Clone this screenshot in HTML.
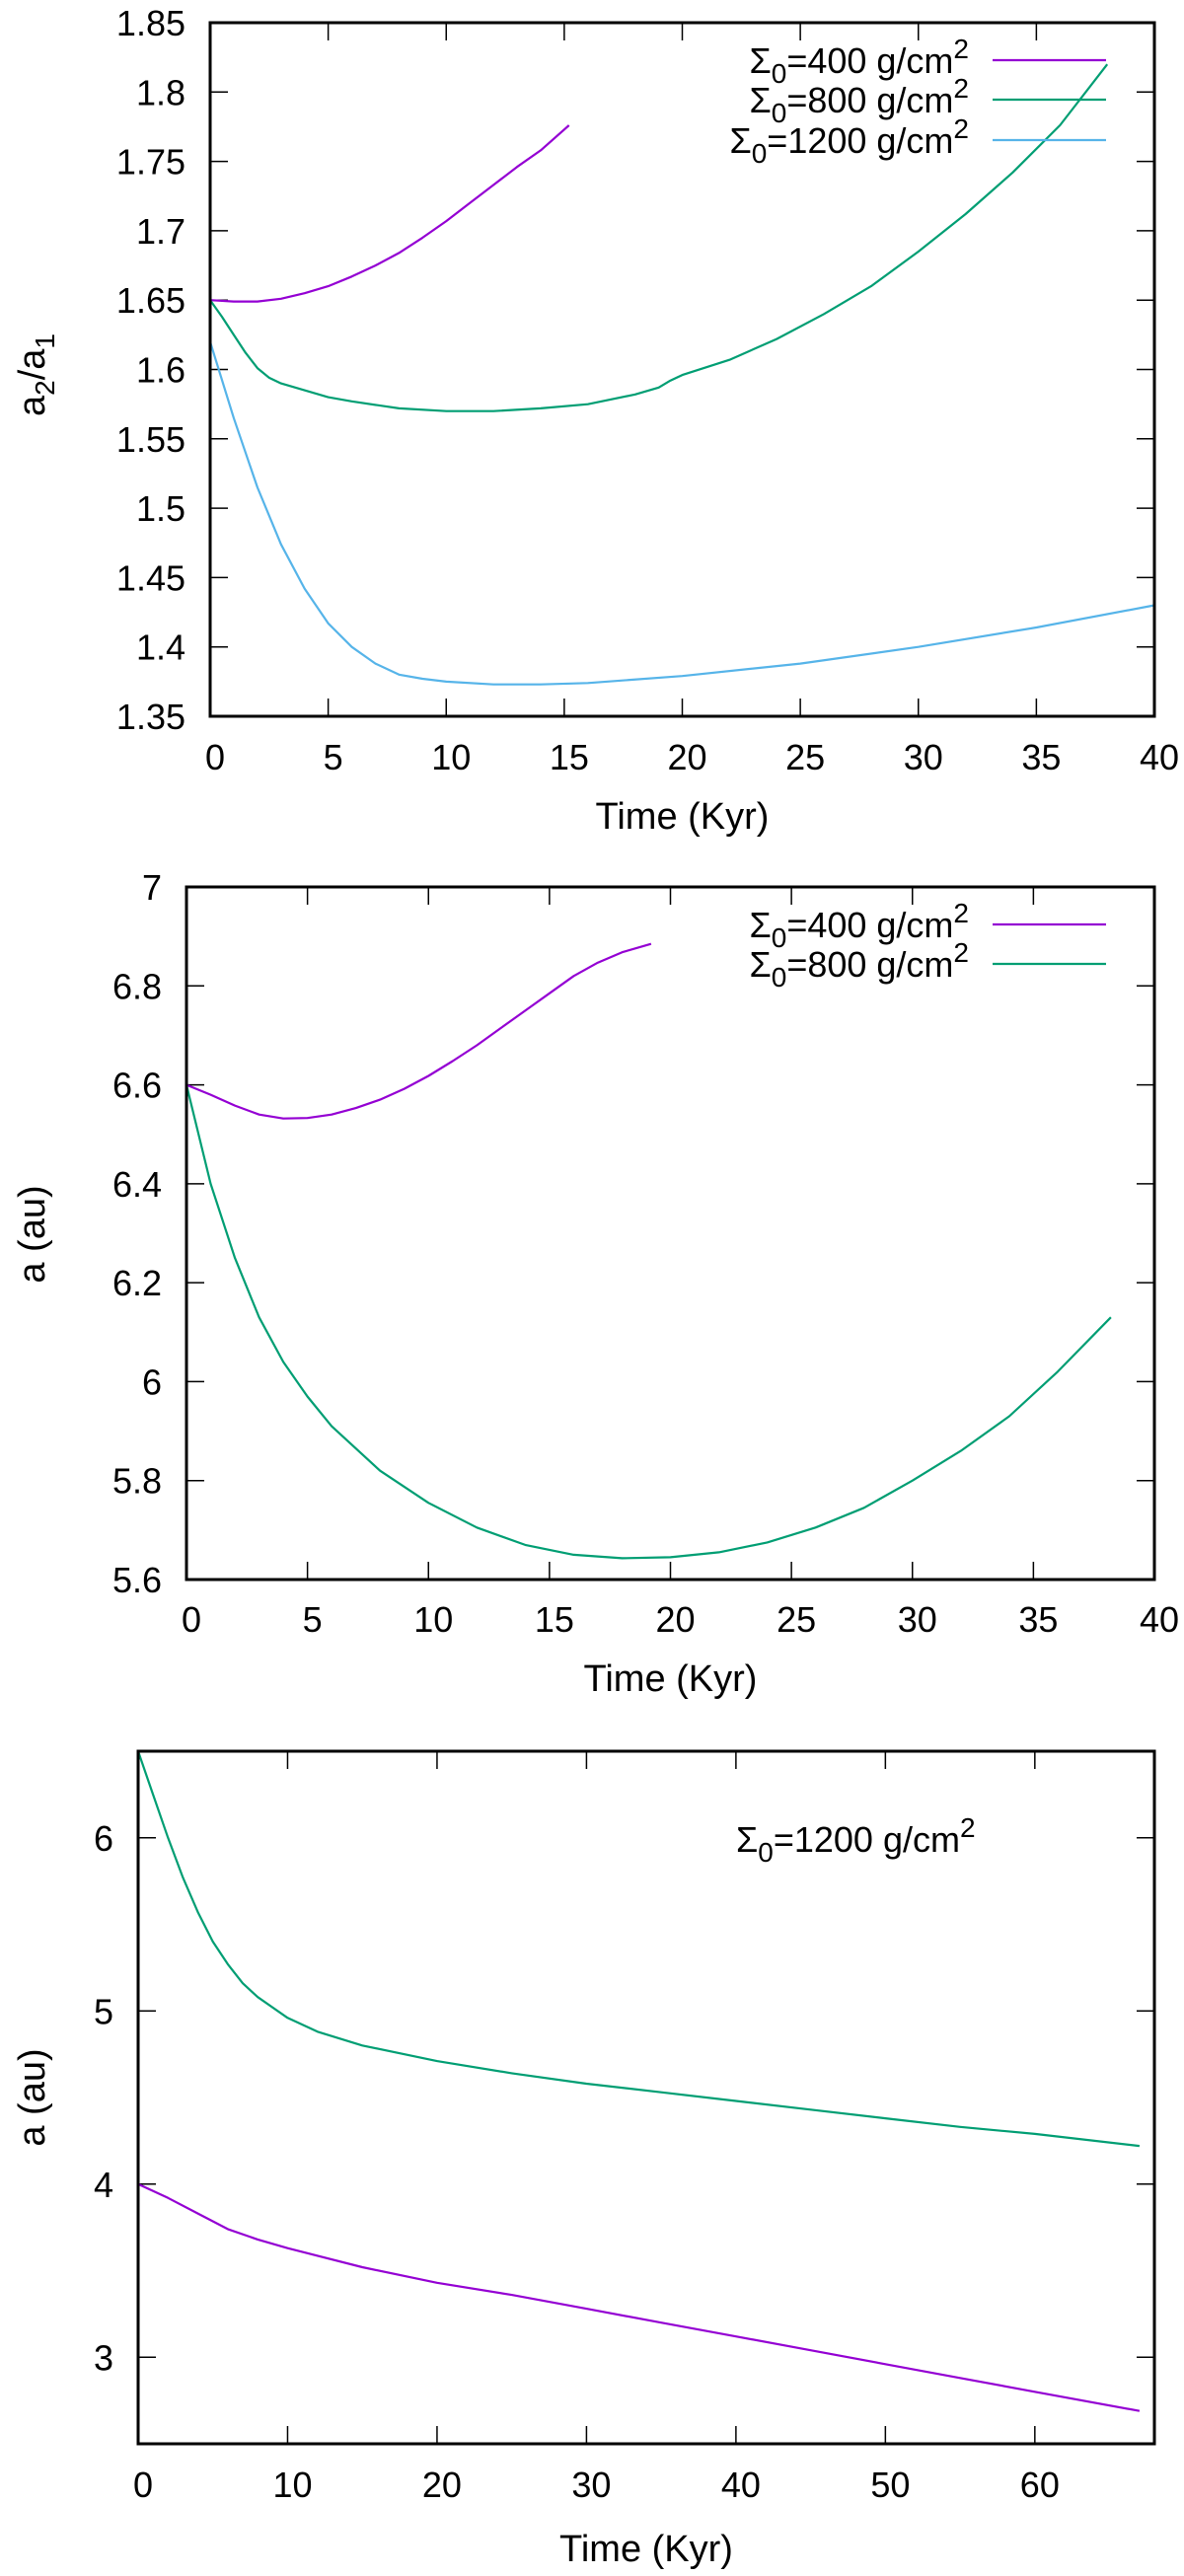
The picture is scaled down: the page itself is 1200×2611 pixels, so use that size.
<!DOCTYPE html>
<html><head><meta charset="utf-8"><style>
html,body{margin:0;padding:0;background:#fff}
svg{display:block}
text{font-family:"Liberation Sans",sans-serif;fill:#000}
</style></head><body>
<svg id="chart" width="1200" height="2611" viewBox="0 0 1200 2611" xmlns="http://www.w3.org/2000/svg"></svg>
<script>
// ---- Panel 1 data (a2/a1 vs time) ----
const p1PurpleT = [0,1,2,3,4,5,6,7,8,9,10,11,12,13,14,15.2];
const p1PurpleV = [1.65,1.649,1.649,1.651,1.655,1.66,1.667,1.675,1.684,1.695,1.707,1.72,1.733,1.746,1.758,1.776];
const p1GreenT = [0,0.5,1,1.5,2,2.5,3,4,5,6,8,10,12,14,16,18,19,19.5,20,22,24,26,28,30,32,34,36,38];
const p1GreenV = [1.65,1.638,1.625,1.612,1.601,1.594,1.59,1.585,1.58,1.577,1.572,1.57,1.57,1.572,1.575,1.582,1.587,1.592,1.596,1.607,1.622,1.64,1.66,1.685,1.712,1.742,1.776,1.82];
const p1BlueT = [0,1,2,3,4,5,6,7,8,9,10,12,14,16,20,25,30,35,40];
const p1BlueV = [1.62,1.565,1.515,1.474,1.442,1.417,1.4,1.388,1.38,1.377,1.375,1.373,1.373,1.374,1.379,1.388,1.4,1.414,1.43];
const p1YTicks = ["1.35","1.4","1.45","1.5","1.55","1.6","1.65","1.7","1.75","1.8","1.85"];
const p1XTicks = ["0","5","10","15","20","25","30","35","40"];
// ---- Panel 2 data ----
const p2PurpleT = [0,1,2,3,4,5,6,7,8,9,10,11,12,13,14,15,16,17,18,19.2];
const p2PurpleV = [6.6,6.58,6.558,6.54,6.532,6.533,6.54,6.553,6.57,6.592,6.618,6.648,6.68,6.715,6.75,6.785,6.82,6.847,6.868,6.885];
const p2GreenT = [0,1,2,3,4,5,6,8,10,12,14,16,18,20,22,24,26,28,30,32,34,36,38.2];
const p2GreenV = [6.6,6.4,6.25,6.13,6.04,5.97,5.91,5.82,5.755,5.705,5.67,5.65,5.643,5.645,5.655,5.675,5.705,5.745,5.8,5.86,5.93,6.02,6.13];
const p2YTicks = ["5.6","5.8","6","6.2","6.4","6.6","6.8","7"];
const p2XTicks = ["0","5","10","15","20","25","30","35","40"];
// ---- Panel 3 data ----
const p3GreenT = [0,1,2,3,4,5,6,7,8,10,12,15,20,25,30,35,40,45,50,55,60,67];
const p3GreenV = [6.5,6.25,6.0,5.77,5.57,5.4,5.27,5.16,5.08,4.96,4.88,4.8,4.71,4.64,4.58,4.53,4.48,4.43,4.38,4.33,4.29,4.22];
const p3PurpleT = [0,2,4,6,8,10,15,20,25,30,35,40,45,50,55,60,67];
const p3PurpleV = [4.0,3.92,3.83,3.74,3.68,3.63,3.52,3.43,3.36,3.28,3.2,3.12,3.04,2.96,2.88,2.8,2.69];
const p3YTicks = ["3","4","5","6"];
const p3XTicks = ["0","10","20","30","40","50","60"];

const NS="http://www.w3.org/2000/svg";
const svg=document.getElementById('chart');
const PURPLE="#9400d3", GREEN="#009e73", BLUE="#56b4e9";
function mk(tag,attrs,parent){const e=document.createElementNS(NS,tag);for(const k in attrs)e.setAttribute(k,attrs[k]);(parent||svg).appendChild(e);return e;}

function panel(cfg){
  const g=mk('g',{});
  
  
  const sx=v=>cfg.L+(v-cfg.x0)/(cfg.x1-cfg.x0)*(cfg.R-cfg.L);
  const sy=v=>cfg.B-(v-cfg.y0)/(cfg.y1-cfg.y0)*(cfg.B-cfg.T);
  cfg.yt.forEach(s=>{const v=parseFloat(s),y=sy(v);
    const t1=mk('line',{x1:cfg.L,x2:cfg.L+18,y1:y,y2:y,stroke:'#000','stroke-width':1.5},g);
    
    
    const t2=mk('line',{x1:cfg.R-18,x2:cfg.R,y1:y,y2:y,stroke:'#000','stroke-width':1.5},g);
    
    
    const tx=mk('text',{x:cfg.L-25,y:y+13,'text-anchor':'end','font-size':36},g);
    tx.textContent=s;
    
    
  });
  cfg.xt.forEach(s=>{const v=parseFloat(s),x=sx(v);
    const t1=mk('line',{x1:x,x2:x,y1:cfg.B,y2:cfg.B-18,stroke:'#000','stroke-width':1.5},g);
    
    
    const t2=mk('line',{x1:x,x2:x,y1:cfg.T,y2:cfg.T+18,stroke:'#000','stroke-width':1.5},g);
    
    
    const tx=mk('text',{x:x+5,y:cfg.xly+13,'text-anchor':'middle','font-size':36},g);
    tx.textContent=s;
    
    
  });
  cfg.series.forEach(se=>{
    const d=se.t.map((t,i)=>(i?'L':'M')+sx(t).toFixed(1)+','+sy(se.v[i]).toFixed(1)).join(' ');
    const p=mk('path',{d:d,fill:'none',stroke:se.c,'stroke-width':2.2,'stroke-linejoin':'round'},g);
    
    
  });
  const fr=mk('rect',{x:cfg.L,y:cfg.T,width:cfg.R-cfg.L,height:cfg.B-cfg.T,fill:'none',stroke:'#000','stroke-width':3},g);
  
  
  const xl=mk('text',{x:(cfg.L+cfg.R)/2,y:cfg.xty,'text-anchor':'middle','font-size':38},g);
  xl.textContent='Time (Kyr)';
  
  
  const yl=mk('text',{x:0,y:0,'text-anchor':'middle','font-size':38,transform:`translate(45,${cfg.yty}) rotate(-90)`},g);
  yl.innerHTML=cfg.ytitle;
  
  
  (cfg.legend||[]).forEach(le=>{
    const tx=mk('text',{x:982,y:le.y+13,'text-anchor':'end','font-size':36},g);
    tx.innerHTML='Σ<tspan dy="10" font-size="28">0</tspan><tspan dy="-10">='+le.label+' g/cm</tspan><tspan dy="-15" font-size="28">2</tspan>';
    
    
    const ln=mk('line',{x1:1006,x2:1121,y1:le.y,y2:le.y,stroke:le.c,'stroke-width':2.2},g);
    
    
  });
  return g;
}

panel({name:'panel-ratio',L:213,R:1170,T:23,B:726,x0:0,x1:40,y0:1.35,y1:1.85,yt:p1YTicks,xt:p1XTicks,xly:767,xty:840,yty:380,
  ytitle:'a<tspan dy="10" font-size="28">2</tspan><tspan dy="-10">/a</tspan><tspan dy="10" font-size="28">1</tspan>',
  series:[{t:p1PurpleT,v:p1PurpleV,c:PURPLE,n:'line-400'},{t:p1GreenT,v:p1GreenV,c:GREEN,n:'line-800'},{t:p1BlueT,v:p1BlueV,c:BLUE,n:'line-1200'}],
  legend:[{y:61,label:'400',c:PURPLE},{y:101,label:'800',c:GREEN},{y:142,label:'1200',c:BLUE}]});

panel({name:'panel-semimajor',L:189,R:1170,T:899,B:1601,x0:0,x1:40,y0:5.6,y1:7.0,yt:p2YTicks,xt:p2XTicks,xly:1641,xty:1714,yty:1251,
  ytitle:'a (au)',
  series:[{t:p2PurpleT,v:p2PurpleV,c:PURPLE,n:'line-400'},{t:p2GreenT,v:p2GreenV,c:GREEN,n:'line-800'}],
  legend:[{y:937,label:'400',c:PURPLE},{y:977,label:'800',c:GREEN}]});

const g3=panel({name:'panel-1200',L:140,R:1170,T:1775,B:2477,x0:0,x1:68,y0:2.5,y1:6.5,yt:p3YTicks,xt:p3XTicks,xly:2518,xty:2596,yty:2126,
  ytitle:'a (au)',
  series:[{t:p3GreenT,v:p3GreenV,c:GREEN,n:'line-outer'},{t:p3PurpleT,v:p3PurpleV,c:PURPLE,n:'line-inner'}]});
const lab=mk('text',{x:746,y:1877,'font-size':36},g3);
lab.innerHTML='Σ<tspan dy="10" font-size="28">0</tspan><tspan dy="-10">=1200 g/cm</tspan><tspan dy="-15" font-size="28">2</tspan>';


</script>
</body></html>
